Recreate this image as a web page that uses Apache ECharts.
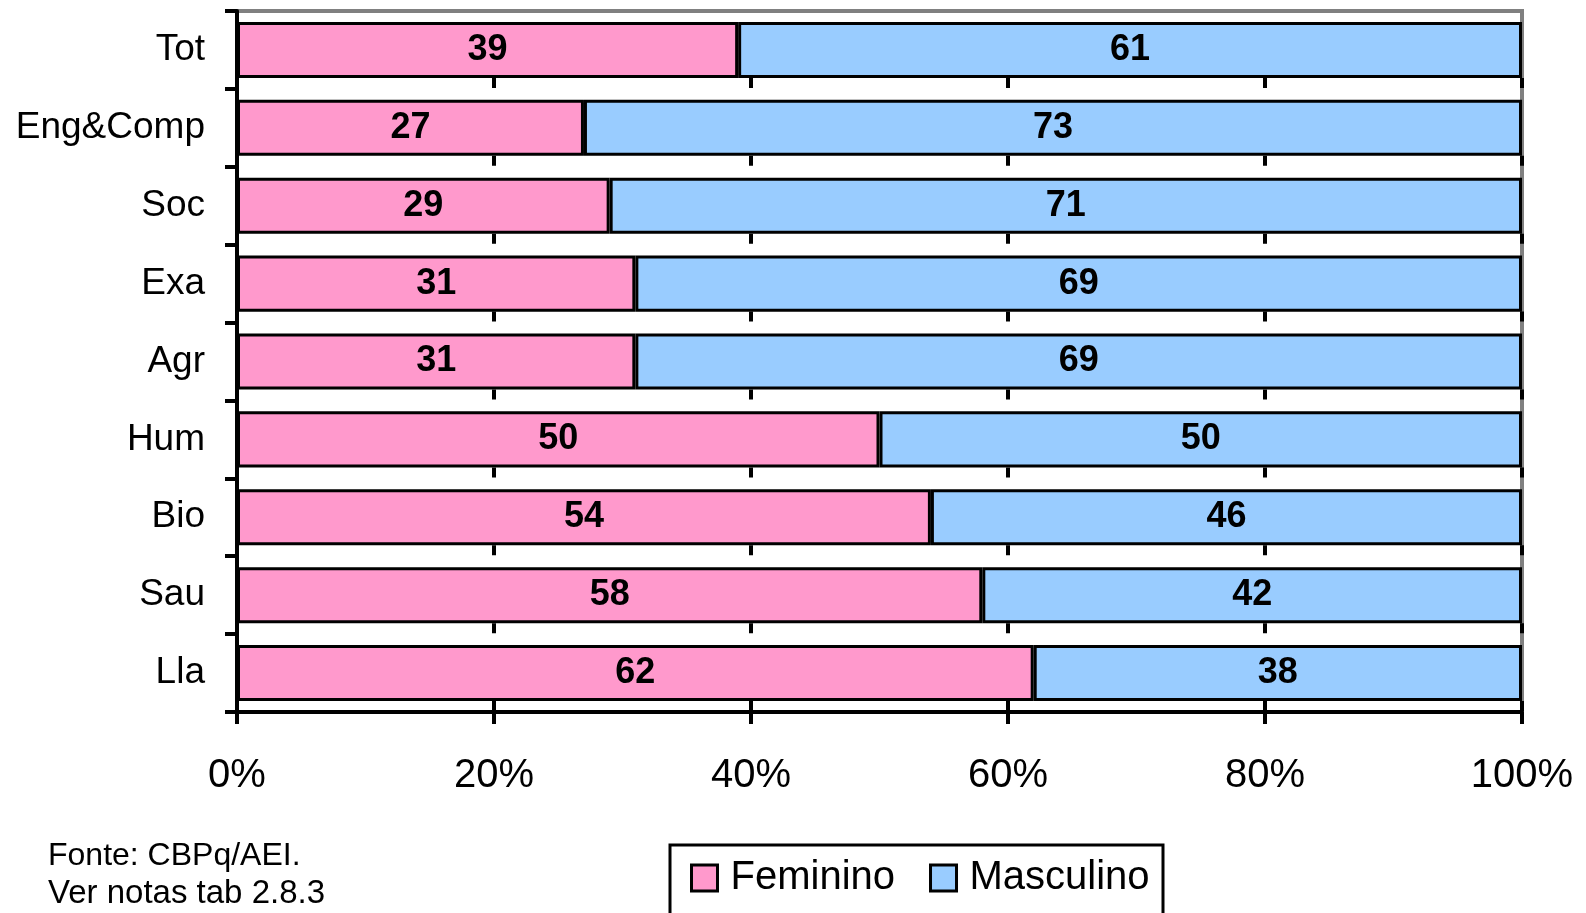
<!DOCTYPE html>
<html>
<head>
    <meta charset="utf-8"/>
    <script src="https://cdn.jsdelivr.net/npm/echarts@6/dist/echarts.min.js"></script>
</head>
<body style="margin:0;background:#fff;">
<div id="main" style="width: 1586px; height: 913px;"></div>
<script type="text/javascript">

    // categorias (de cima para baixo)
    var areas = ['Tot', 'Eng&Comp', 'Soc', 'Exa', 'Agr', 'Hum', 'Bio', 'Sau', 'Lla'];
    var feminino = [39, 27, 29, 31, 31, 50, 54, 58, 62];
    var masculino = [61, 73, 71, 69, 69, 50, 46, 42, 38];
    var xTicks = [0, 20, 40, 60, 80, 100];

    var fonte = 'Liberation Sans, Arial, sans-serif';
    var myChart = echarts.init(document.getElementById('main'));

    function serie(nome, valores, cor) {
        return {
            name: nome,
            type: 'bar',
            stack: 'total',
            barCategoryGap: '28%',
            data: valores,
            itemStyle: {color: cor, borderColor: '#000', borderWidth: 3},
            label: {
                show: true,
                position: 'inside',
                color: '#000',
                fontFamily: fonte,
                fontWeight: 'bold',
                fontSize: 36
            }
        };
    }

    myChart.setOption({
        backgroundColor: '#fff',
        animation: false,
        grid: {
            left: 237, top: 11, right: 64, bottom: 201,
            show: true,
            borderColor: '#808080',
            borderWidth: 4
        },
        xAxis: {
            type: 'value',
            min: xTicks[0],
            max: xTicks[xTicks.length - 1],
            interval: 20,
            axisLine: {show: true, lineStyle: {color: '#000', width: 4}},
            axisTick: {show: true, length: 12, lineStyle: {color: '#000', width: 4}},
            axisLabel: {
                formatter: '{value}%',
                color: '#000',
                fontFamily: fonte,
                fontSize: 40,
                margin: 44
            },
            splitLine: {
                show: true,
                lineStyle: {color: '#000', width: 4, type: [10, 67.9], dashOffset: 11}
            }
        },
        yAxis: {
            type: 'category',
            data: areas,
            inverse: true,
            axisLine: {lineStyle: {color: '#000', width: 4}},
            axisTick: {show: true, length: 12, lineStyle: {color: '#000', width: 4}},
            axisLabel: {
                color: '#000',
                fontFamily: fonte,
                fontSize: 37,
                margin: 32
            }
        },
        legend: {
            left: 690,
            top: 858,
            itemWidth: 26,
            itemHeight: 26,
            itemGap: 34,
            icon: 'rect',
            padding: 0,
            itemStyle: {borderColor: '#000', borderWidth: 3},
            textStyle: {
                color: '#000',
                fontFamily: fonte,
                fontSize: 40,
                padding: [0, 0, 0, 8]
            },
            data: ['Feminino', 'Masculino']
        },
        graphic: [
            {
                type: 'rect',
                shape: {x: 670, y: 845, width: 493, height: 100},
                style: {fill: 'none', stroke: '#000', lineWidth: 3}
            },
            {
                type: 'text',
                left: 48,
                top: 840,
                style: {
                    text: 'Fonte: CBPq/AEI.',
                    fill: '#000',
                    font: '32px ' + fonte
                }
            },
            {
                type: 'text',
                left: 48,
                top: 877,
                style: {
                    text: 'Ver notas tab 2.8.3',
                    fill: '#000',
                    font: '33px ' + fonte
                }
            }
        ],
        series: [
            serie('Feminino', feminino, '#FF99CC'),
            serie('Masculino', masculino, '#99CCFF')
        ]
    });
</script>
</body>
</html>
